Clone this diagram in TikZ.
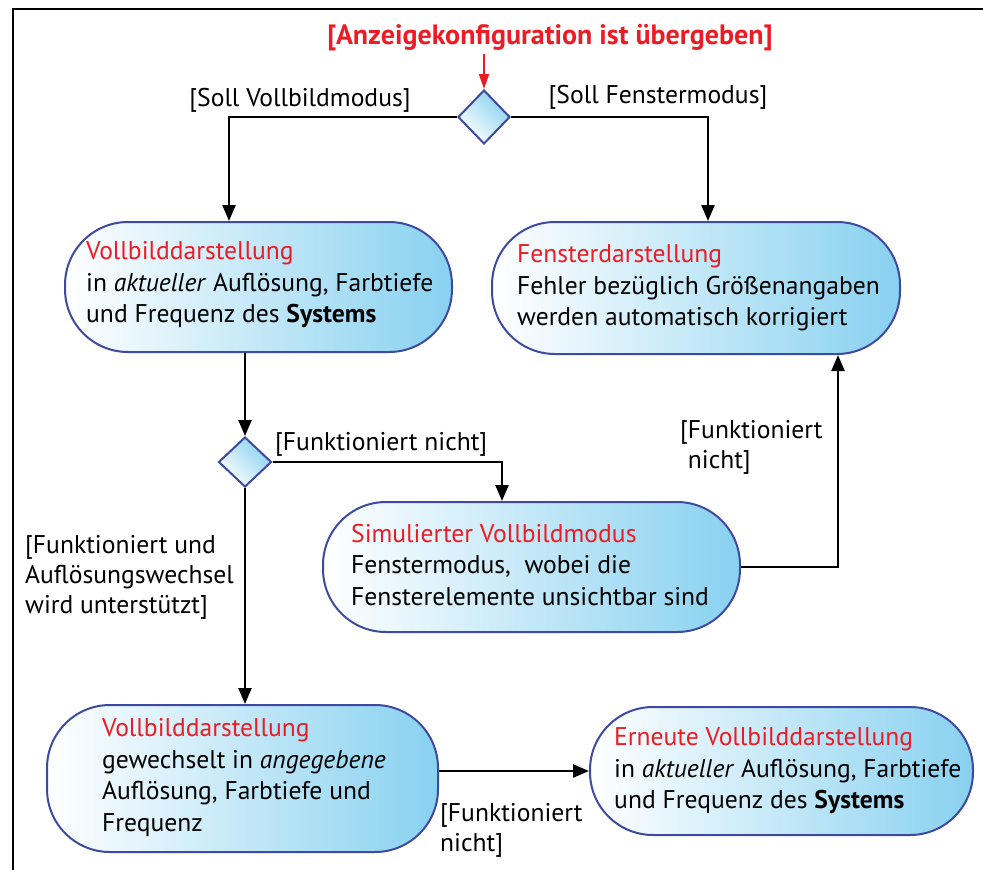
\documentclass[tikz,border=0pt]{standalone}
\usepackage{fontspec}
\setmainfont{PT Sans}
\usetikzlibrary{shapes.geometric,arrows.meta}

\definecolor{boxline}{RGB}{62,74,160}
\definecolor{boxblue}{RGB}{136,209,240}
\definecolor{headred}{RGB}{237,28,36}

\newcommand{\hd}[1]{\textcolor{headred}{#1}}

\tikzset{
  flow/.style={line width=2.3pt, -{Triangle[length=16pt,width=13pt]}},
  startflow/.style={draw=headred, line width=1.8pt, -{Triangle[length=15pt,width=10pt]}},
  act/.style={draw=boxline, line width=2pt, rounded corners=63pt,
    left color=white, right color=boxblue, inner sep=0pt},
  acttext/.style={anchor=west, align=left, inner sep=0pt,
    font=\fontsize{25.6pt}{31.5pt}\selectfont},
  dec/.style={diamond, draw=boxline, line width=2pt, inner sep=0pt,
    top color=boxblue, bottom color=white, shading angle=-45},
  guard/.style={align=left, inner sep=0pt, font=\fontsize{25.6pt}{30pt}\selectfont},
}

\begin{document}
\begin{tikzpicture}[x=1pt,y=-1pt]
\useasboundingbox (0,0) rectangle (983,870);

% frame
\draw[line width=2.8pt] (13,870) -- (13,9) -- (983,9);

% start condition
\node[inner sep=0pt, font=\bfseries\fontsize{28pt}{30pt}\selectfont, text=headred] (title) at (550,38) {[Anzeigekonfiguration ist übergeben]};
\coordinate (src) at (484,54);

% decisions
\node[dec, minimum width=52pt, minimum height=54pt] (d1) at (484,117) {};
\node[dec, minimum width=53pt, minimum height=50pt] (d2) at (245,462) {};

% activity boxes
\node[act, minimum width=387pt, minimum height=130pt] (A) at (258.5,287) {};
\node[act, minimum width=408pt, minimum height=132pt] (B) at (696,288) {};
\node[act, minimum width=417pt, minimum height=130pt] (C) at (531.5,567) {};
\node[act, minimum width=391pt, minimum height=147pt] (D) at (242.5,778.5) {};
\node[act, minimum width=383pt, minimum height=128pt] (E) at (781.5,771) {};

% activity texts
\node[acttext] (At) at ([xshift=22pt,yshift=2pt]A.west)
  {\hd{Vollbilddarstellung}\\in \textit{aktueller} Auflösung, Farbtiefe\\und Frequenz des \textbf{Systems}};
\node[acttext] (Bt) at ([xshift=26pt]B.west)
  {\hd{Fensterdarstellung}\\Fehler bezüglich Größenangaben\\werden automatisch korrigiert};
\node[acttext] (Ct) at ([xshift=29pt,yshift=2pt]C.west)
  {\hd{Simulierter Vollbildmodus}\\Fenstermodus,\ \ wobei die\\Fensterelemente unsichtbar sind};
\node[acttext] (Dt) at ([xshift=56pt,yshift=1pt]D.west)
  {\hd{Vollbilddarstellung}\\gewechselt in \textit{angegebene}\\Auflösung, Farbtiefe und\\Frequenz};
\node[acttext] (Et) at ([xshift=25pt]E.west)
  {\hd{Erneute Vollbilddarstellung}\\in \textit{aktueller} Auflösung, Farbtiefe\\und Frequenz des \textbf{Systems}};

% guards
\node[guard] (g1) at (300,100) {[Soll Vollbildmodus]};
\node[guard] (g2) at (658,97) {[Soll Fenstermodus]};
\node[guard, anchor=west] (g3) at (275,444) {[Funktioniert nicht]};
\node[guard, anchor=west] (g4) at (680,447) {[Funktioniert\\\hspace*{0.3em}nicht]};
\node[guard, anchor=west] (g5) at (25,577) {[Funktioniert und\\Auflösungswechsel\\wird unterstützt]};
\node[guard, anchor=west] (g6) at (440,830) {[Funktioniert\\nicht]};

% connectors
\draw[startflow] (src) -- (d1.north);
\draw[flow] (d1.west) -| ([xshift=-29.5pt]A.north);
\draw[flow] (d1.east) -| ([xshift=12pt]B.north);
\draw[flow] (d2.north |- A.south) -- (d2.north);
\draw[flow] (d2.east) -| ([xshift=-29.5pt]C.north);
\draw[flow] (d2.south) -- (d2.south |- D.north);
\draw[flow] (C.east) -| ([xshift=142pt]B.south);
\draw[flow] (D.east |- E.west) -- (E.west);
\end{tikzpicture}
\end{document}
